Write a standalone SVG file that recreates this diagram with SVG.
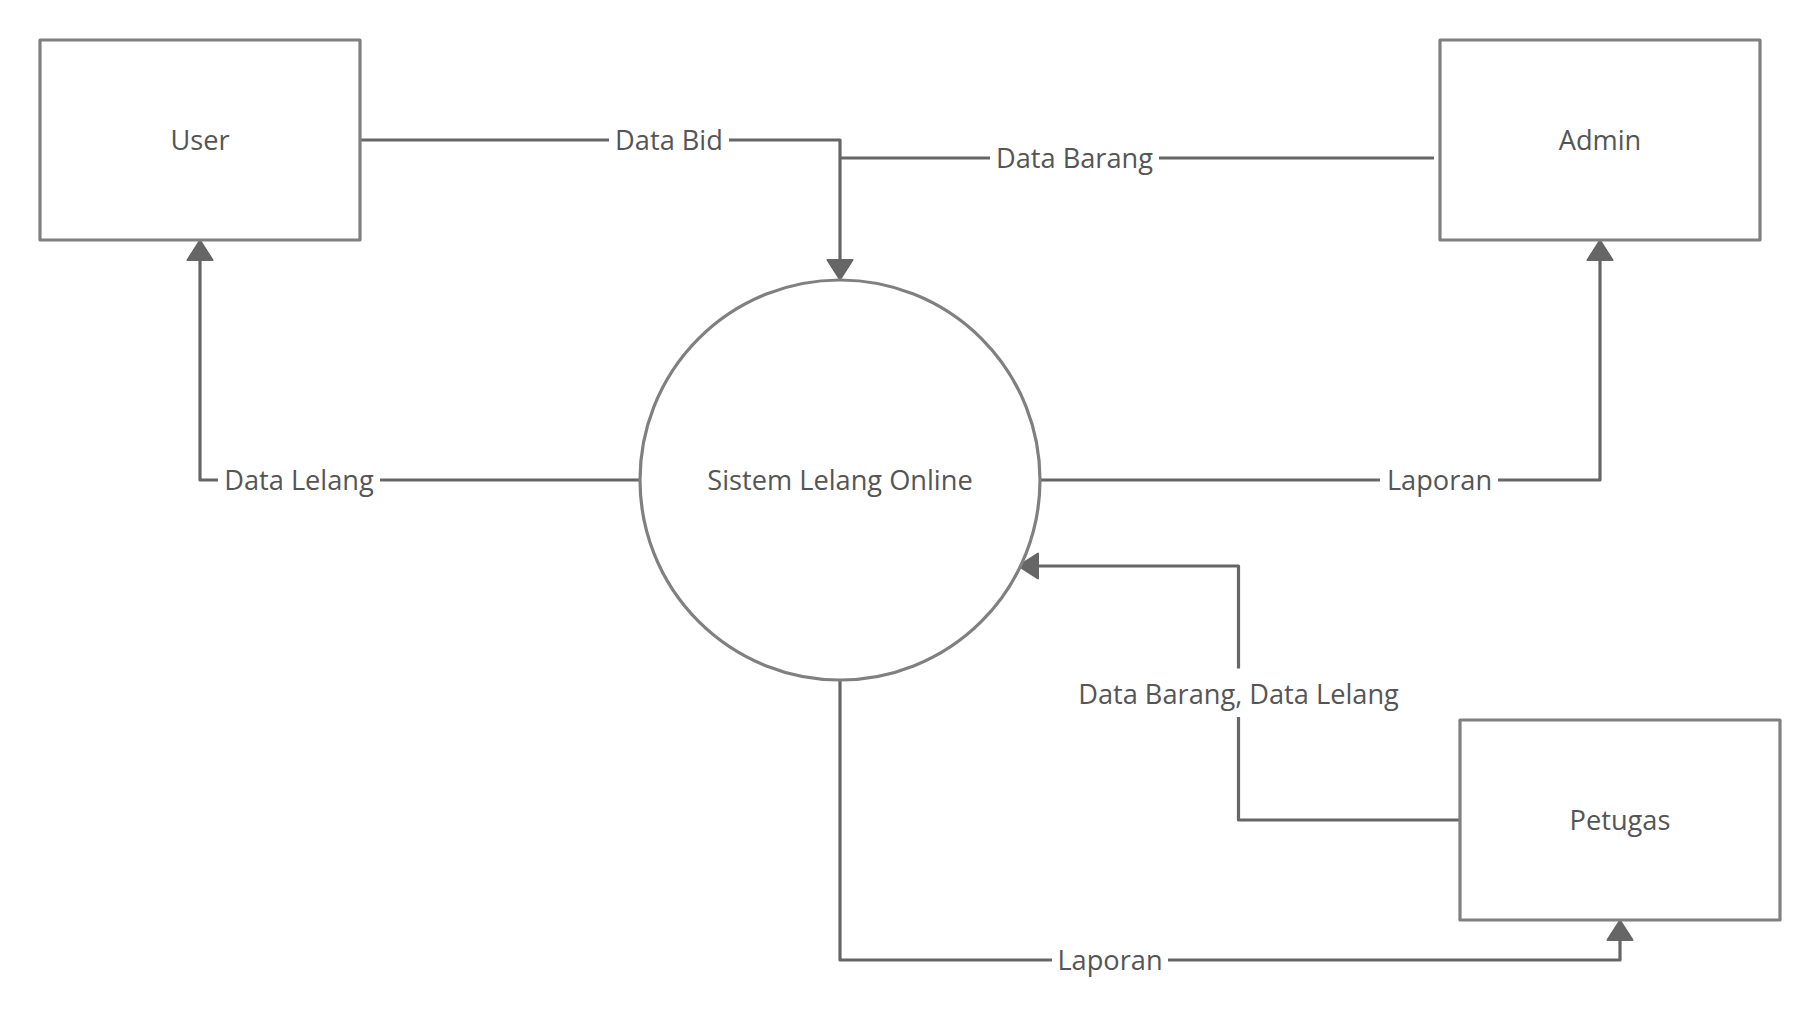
<svg xmlns="http://www.w3.org/2000/svg" width="1820" height="1018" viewBox="0 0 1820 1018">
  <style>
    .box { fill: #ffffff; stroke: #808080; stroke-width: 3.2; stroke-linejoin: round; }
    .proc { fill: #ffffff; stroke: #808080; stroke-width: 3.2; }
    .conn { fill: none; stroke: #666666; stroke-width: 3.2; stroke-linejoin: round; }
    .lblbg { fill: #ffffff; stroke: none; }
    .txt { font-family: "Open Sans", "Noto Sans", "Liberation Sans", sans-serif; font-size: 27.2px; fill: #555555; text-anchor: middle; }
  </style>
  <defs>
    <marker id="arrow" viewBox="0 0 22 28" refX="1" refY="14" markerWidth="22" markerHeight="28" markerUnits="userSpaceOnUse" orient="auto">
      <path d="M1,1.5 L20.5,14 L1,26.5 Z" fill="#666666" stroke="#666666" stroke-width="2" stroke-linejoin="round"/>
    </marker>
  </defs>
  <rect width="1820" height="1018" fill="#ffffff"/>

  <g id="connectors">
    <path id="c-databid" class="conn" d="M360,140 H840 V260" marker-end="url(#arrow)"/>
    <path id="c-databarang" class="conn" d="M1434,158 H840"/>
    <path id="c-datalelang" class="conn" d="M640,480 H200 V260" marker-end="url(#arrow)"/>
    <path id="c-laporan-admin" class="conn" d="M1040,480 H1600 V260" marker-end="url(#arrow)"/>
    <path id="c-petugas" class="conn" d="M1459,820 H1238.5 V566 H1038" marker-end="url(#arrow)"/>
    <path id="c-laporan-petugas" class="conn" d="M840,680 V960 H1620 V940" marker-end="url(#arrow)"/>

    <g id="labels">
      <rect class="lblbg" x="609" y="125" width="120" height="30"/>
      <text class="txt" x="669" y="149.7">Data Bid</text>
      <rect class="lblbg" x="990" y="143" width="169" height="30"/>
      <text class="txt" x="1074.5" y="167.7">Data Barang</text>
      <rect class="lblbg" x="218" y="465" width="162" height="30"/>
      <text class="txt" x="299" y="489.7">Data Lelang</text>
      <rect class="lblbg" x="1380" y="465" width="118" height="30"/>
      <text class="txt" x="1439.5" y="489.7">Laporan</text>
      <rect class="lblbg" x="1052" y="945" width="116" height="30"/>
      <text class="txt" x="1110" y="969.7">Laporan</text>
      <rect class="lblbg" x="1070" y="668.5" width="337" height="48.5"/>
      <text class="txt" x="1238.5" y="704">Data Barang, Data Lelang</text>
    </g>
  </g>

  <g id="node-user">
    <rect class="box" x="40" y="40" width="320" height="200"/>
    <text class="txt" x="200" y="149.7">User</text>
  </g>
  <g id="node-admin">
    <rect class="box" x="1440" y="40" width="320" height="200"/>
    <text class="txt" x="1600" y="149.7">Admin</text>
  </g>
  <g id="node-petugas">
    <rect class="box" x="1460" y="720" width="320" height="200"/>
    <text class="txt" x="1620" y="829.7">Petugas</text>
  </g>
  <g id="node-sistem">
    <circle class="proc" cx="840" cy="480" r="200"/>
    <text class="txt" x="840" y="489.7">Sistem Lelang Online</text>
  </g>
</svg>
